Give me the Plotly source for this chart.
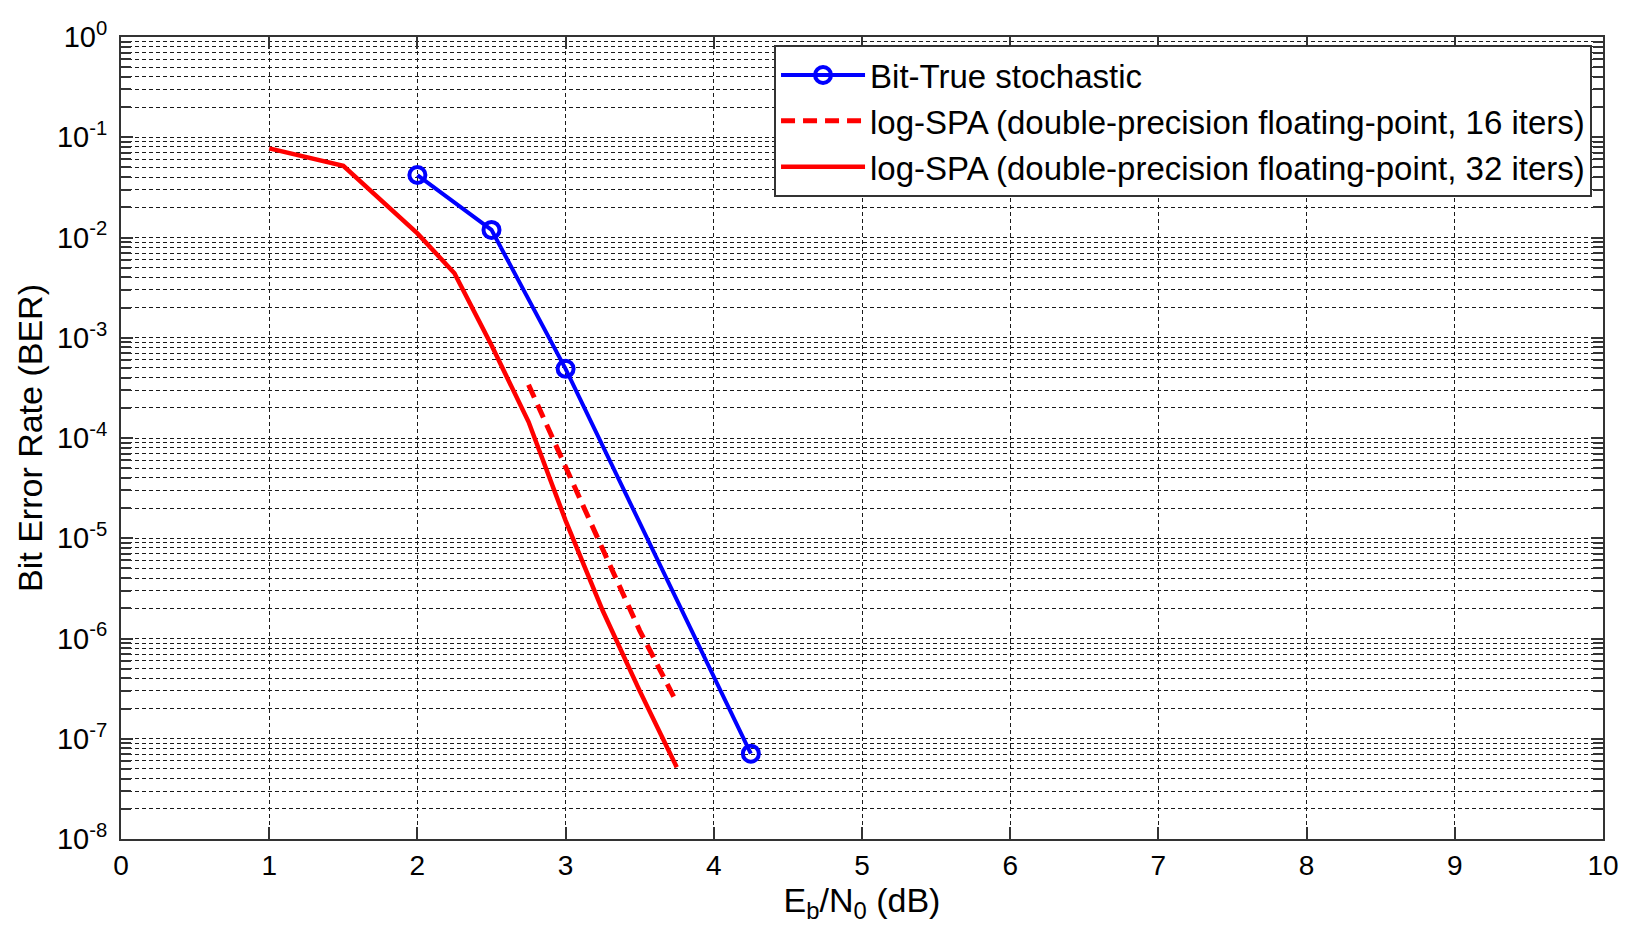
import numpy as np
import plotly.graph_objects as go

# Eb/N0 (dB) and BER for each decoder
ebn0_stoch = [2.0, 2.5, 3.0, 4.25]
ber_stoch = [0.042, 0.0119, 4.9e-4, 7.1e-8]

ebn0_spa16 = [2.75, 3.0, 3.25, 3.5, 3.75]
ber_spa16 = [3.4e-4, 5.3e-5, 7.8e-6, 1.2e-6, 2.3e-7]

ebn0_spa32 = [1.0, 1.5, 2.0, 2.25, 2.5, 2.75, 3.0, 3.25, 3.5, 3.75]
ber_spa32 = [0.0775, 0.052, 0.011, 0.0044, 8.4e-4, 1.45e-4, 1.5e-5, 1.9e-6, 3.0e-7, 5.2e-8]

names = [
    "Bit-True stochastic",
    "log-SPA (double-precision floating-point, 16 iters)",
    "log-SPA (double-precision floating-point, 32 iters)",
]

# axis ticks
x_ticks = list(range(0, 11))
y_exponents = list(range(-8, 1))
y_major = [10.0 ** e for e in y_exponents]
y_labels = [f"10<sup>{e}</sup>" for e in y_exponents]
y_minor = [k * 10.0 ** e for e in y_exponents[:-1] for k in range(2, 10)]

FONT = "Liberation Sans, Arial, Helvetica, sans-serif"
GRID = "#1a1a1a"
GRID_DASH = "4px,3px"

fig = go.Figure()
fig.add_trace(go.Scatter(
    x=ebn0_stoch, y=ber_stoch, name=names[0], mode="lines+markers",
    line=dict(color="#0000ff", width=4),
    marker=dict(symbol="circle-open", size=16, color="#0000ff",
                line=dict(color="#0000ff", width=4)),
))
fig.add_trace(go.Scatter(
    x=ebn0_spa16, y=ber_spa16, name=names[1], mode="lines",
    line=dict(color="#ff0000", width=5, dash="14px,8px"),
))
fig.add_trace(go.Scatter(
    x=ebn0_spa32, y=ber_spa32, name=names[2], mode="lines",
    line=dict(color="#ff0000", width=4.5),
))

fig.update_layout(
    width=1630, height=930, autosize=False,
    margin=dict(l=121, r=27, t=37, b=91),
    paper_bgcolor="white", plot_bgcolor="white",
    font=dict(family=FONT, size=28, color="black"),
    showlegend=True,
    legend=dict(
        x=0.9926, xanchor="right", y=0.99, yanchor="top",
        bgcolor="white", bordercolor="#333333", borderwidth=2,
        font=dict(family=FONT, size=33, color="black"),
        itemwidth=84, tracegroupgap=0,
    ),
)

fig.update_xaxes(
    range=[0, 10], tickvals=x_ticks, ticktext=[str(v) for v in x_ticks],
    ticks="inside", ticklen=12, tickwidth=1.5, tickcolor="#333333",
    showline=True, linecolor="#333333", linewidth=2, mirror="allticks",
    showgrid=True, gridcolor=GRID, gridwidth=1, griddash=GRID_DASH,
    zeroline=False,
    tickfont=dict(size=28),
    title=dict(text="E<sub>b</sub>/N<sub>0</sub> (dB)", font=dict(size=34), standoff=8),
)

fig.update_yaxes(
    type="log", range=[-8, 0],
    tickvals=y_major, ticktext=y_labels,
    ticks="inside", ticklen=12, tickwidth=1.5, tickcolor="#333333",
    showline=True, linecolor="#333333", linewidth=2, mirror="allticks",
    showgrid=True, gridcolor=GRID, gridwidth=1, griddash=GRID_DASH,
    zeroline=False,
    tickfont=dict(size=29),
    ticklabelstandoff=6,
    minor=dict(tickvals=y_minor, ticks="inside", ticklen=10, tickwidth=1.5,
               tickcolor="#333333", showgrid=True, gridcolor=GRID,
               gridwidth=1, griddash=GRID_DASH),
    title=dict(text="Bit Error Rate (BER)", font=dict(size=34), standoff=4),
)

fig.write_html("out.html")
